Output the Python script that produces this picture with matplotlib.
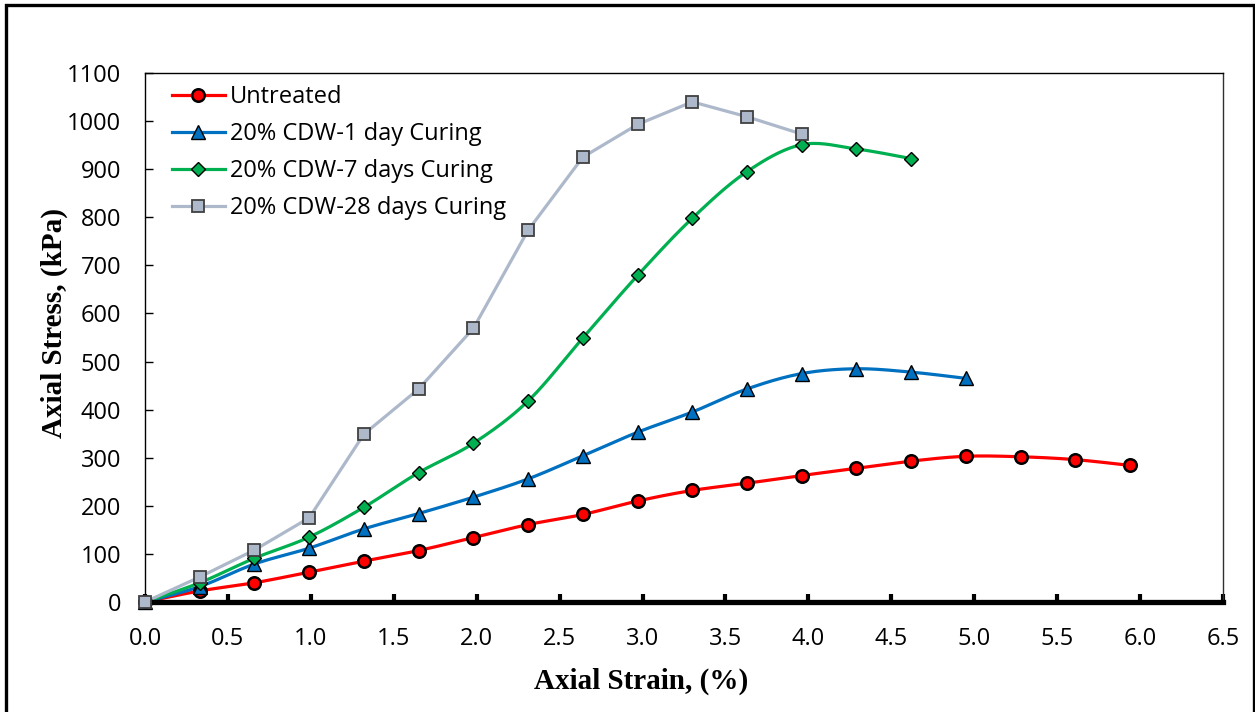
import numpy as np
import matplotlib.pyplot as plt
from matplotlib.patches import Rectangle

# strain (%) and axial stress (kPa) for each mix
strain = [0.00, 0.33, 0.66, 0.99, 1.32, 1.65, 1.98, 2.31, 2.64, 2.97,
          3.30, 3.63, 3.96, 4.29, 4.62, 4.95, 5.28, 5.61, 5.94]

untreated = [0, 23, 40, 62, 85, 107, 134, 161, 182, 210,
             232, 247, 263, 278, 293, 303, 302, 296, 284]
cdw_1d = [0, 32, 79, 112, 152, 184, 218, 256, 304, 353,
          395, 443, 475, 485, 478, 465]
cdw_7d = [0, 40, 91, 135, 197, 269, 330, 418, 549, 679,
          798, 895, 951, 942, 922]
cdw_28d = [0, 52, 108, 175, 349, 443, 569, 773, 925, 993,
           1040, 1009, 973]

labels = ["Untreated", "20% CDW-1 day Curing",
          "20% CDW-7 days Curing", "20% CDW-28 days Curing"]


def smooth(x, y, n=20):
    # Catmull-Rom style cubic bezier through every point
    x = np.asarray(x, float)
    y = np.asarray(y, float)
    px = np.concatenate([[x[0]], x, [x[-1]]])
    py = np.concatenate([[y[0]], y, [y[-1]]])
    xs, ys = [], []
    t = np.linspace(0, 1, n)
    for i in range(1, len(px) - 2):
        p0 = np.array([px[i], py[i]])
        p3 = np.array([px[i + 1], py[i + 1]])
        c1 = p0 + (np.array([px[i + 1], py[i + 1]]) - np.array([px[i - 1], py[i - 1]])) / 6
        c2 = p3 - (np.array([px[i + 2], py[i + 2]]) - np.array([px[i], py[i]])) / 6
        b = ((1 - t) ** 3)[:, None] * p0 + (3 * (1 - t) ** 2 * t)[:, None] * c1 \
            + (3 * (1 - t) * t ** 2)[:, None] * c2 + (t ** 3)[:, None] * p3
        xs.extend(b[:, 0])
        ys.extend(b[:, 1])
    return xs, ys


plt.rcParams['font.family'] = ['Open Sans', 'DejaVu Sans']

fig = plt.figure(figsize=(12.55, 7.12), dpi=100)
ax = fig.add_axes([145 / 1255, 1 - 602 / 712, 1078 / 1255, 529 / 712])

series = [
    (untreated, '#FF0000', 'o', '#FF0000', 9.0, 1.8, True),
    (cdw_1d, '#0070C0', '^', '#0070C0', 9.5, 1.0, True),
    (cdw_7d, '#00B050', 'D', '#00B050', 7.5, 1.0, True),
    (cdw_28d, '#ADB9CA', 's', '#ADB9CA', 8.5, 1.3, False),
]

for (vals, col, mk, face, ms, mew, sm), lab in zip(series, labels):
    xs = strain[:len(vals)]
    if sm:
        lx, ly = smooth(xs, vals)
    else:
        lx, ly = xs, vals
    edge = '#404040' if mk == 's' else '#000000'
    ax.plot(lx, ly, color=col, lw=2.3, solid_capstyle='round', zorder=2)
    ax.plot(xs, vals, ls='none', marker=mk, ms=ms, mfc=face, mec=edge,
            mew=mew, zorder=3, clip_on=False)
    ax.plot([], [], color=col, lw=2.3, marker=mk, ms=ms, mfc=face,
            mec=edge, mew=mew, label=lab)

ax.set_xlim(0, 6.5)
ax.set_ylim(0, 1100)
ax.set_xticks(np.arange(0, 6.51, 0.5))
ax.set_xticklabels([f"{v:.1f}" for v in np.arange(0, 6.51, 0.5)])
ax.set_yticks(np.arange(0, 1101, 100))

ax.spines['bottom'].set_linewidth(3.8)
ax.spines['left'].set_linewidth(1.0)
ax.spines['top'].set_linewidth(1.0)
ax.spines['right'].set_linewidth(1.0)
for s in ax.spines.values():
    s.set_color('black')
ax.spines['right'].set_color('#303030')

ax.tick_params(axis='x', direction='in', length=6, width=3, pad=18,
               labelsize=17, colors='black')
ax.tick_params(axis='y', direction='in', length=6, width=1, pad=17,
               labelsize=17, colors='black')

ax.set_xlabel("Axial Strain, (%)", family='Liberation Serif', weight='bold',
              fontsize=21)
ax.set_ylabel("Axial Stress, (kPa)", family='Liberation Serif', weight='bold',
              fontsize=21)
ax.xaxis.set_label_coords(0.46, -0.125)
ax.yaxis.set_label_coords(-0.071, 0.527)

leg = ax.legend(loc='upper left', bbox_to_anchor=(15 / 1078, 1.0), frameon=False,
                fontsize=17, handlelength=2.25, handletextpad=0.2,
                labelspacing=0.55, borderaxespad=0.2, borderpad=0.3)

# outer frame around the whole chart
fig.patches.append(Rectangle((6 / 1255, -0.05), 1248 / 1255, 1.05 - 5 / 712,
                             transform=fig.transFigure, fill=False,
                             lw=2.4, edgecolor='black', clip_on=False))

fig.savefig("out.png", dpi=100)
